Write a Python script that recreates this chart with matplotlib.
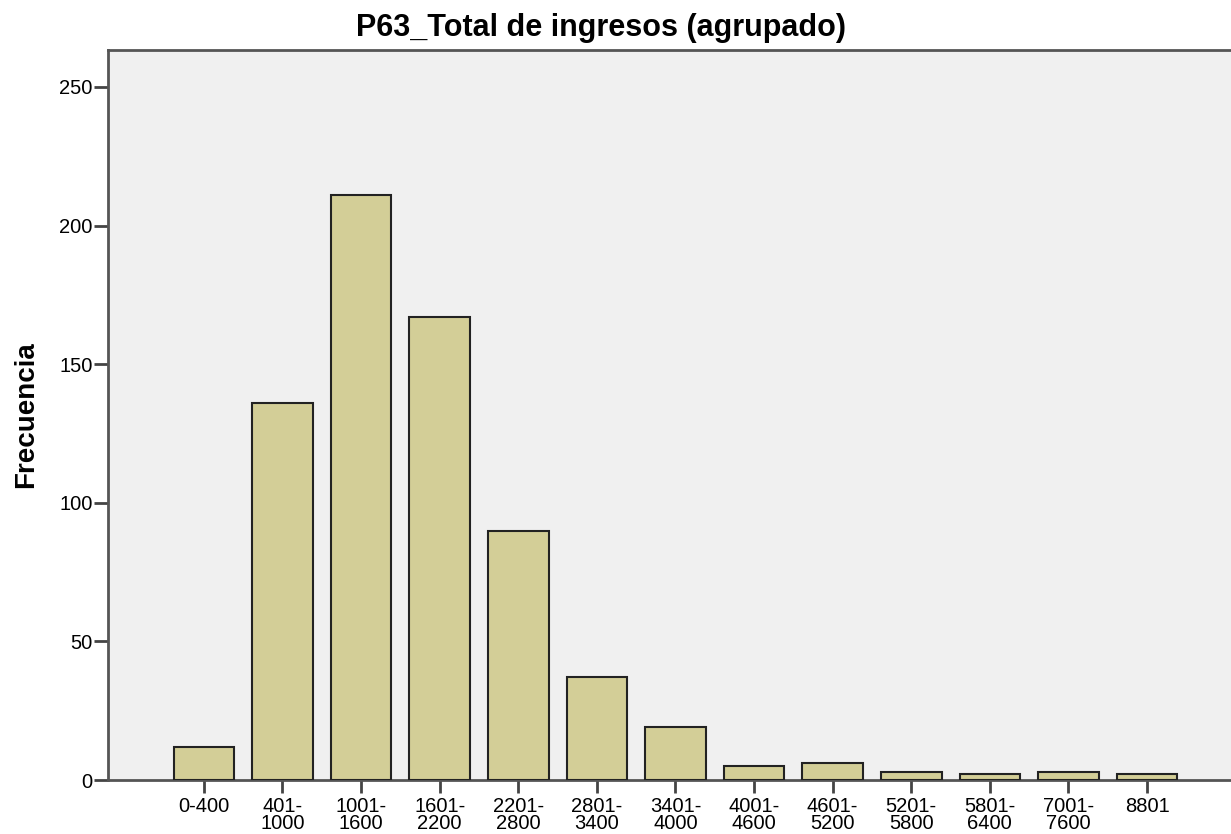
import matplotlib
matplotlib.use("Agg")
import matplotlib.pyplot as plt
import numpy as np

plt.rcParams['font.family'] = ['Liberation Sans', 'DejaVu Sans']

categorias = ["0-400", "401-\n1000", "1001-\n1600", "1601-\n2200", "2201-\n2800",
              "2801-\n3400", "3401-\n4000", "4001-\n4600", "4601-\n5200",
              "5201-\n5800", "5801-\n6400", "7001-\n7600", "8801"]
frecuencia = [12, 136, 211, 167, 90, 37, 19, 5, 6, 3, 2, 3, 2]
yticks = [0, 50, 100, 150, 200, 250]

fig = plt.figure(figsize=(12.31, 8.34), dpi=100)
# the plot frame runs past the right edge of the image, as in the original
ax = fig.add_axes([0.0877, 0.0647, 0.922, 0.8753])
ax.set_facecolor('#F0F0F0')

x = np.arange(len(categorias))
ax.bar(x, frecuencia, width=0.77, color='#D3CE97', edgecolor='#222222', linewidth=1.5, zorder=3)

ax.set_xlim(-1.22, len(categorias) - 1 + 1.22)
ax.set_ylim(0, 263.3)
ax.set_xticks(x)
ax.set_xticklabels(categorias, fontsize=14.5, linespacing=0.87)
ax.set_yticks(yticks)
ax.set_yticklabels([str(v) for v in yticks], fontsize=14.5)
ax.tick_params(axis='x', length=9, width=2, color='#444444', pad=3)
ax.tick_params(axis='y', length=10, width=2, color='#444444', pad=1)

for s in ax.spines.values():
    s.set_color('#555555')
    s.set_linewidth(2)

ax.set_ylabel("Frecuencia", fontsize=20, fontweight='bold')
ax.yaxis.set_label_coords(-0.061, 0.5)
fig.text(601.5 / 1231, 1 - 36 / 834, "P63_Total de ingresos (agrupado)",
         fontsize=22, fontweight='bold', ha='center', va='baseline')

fig.savefig("out.png", dpi=100)
